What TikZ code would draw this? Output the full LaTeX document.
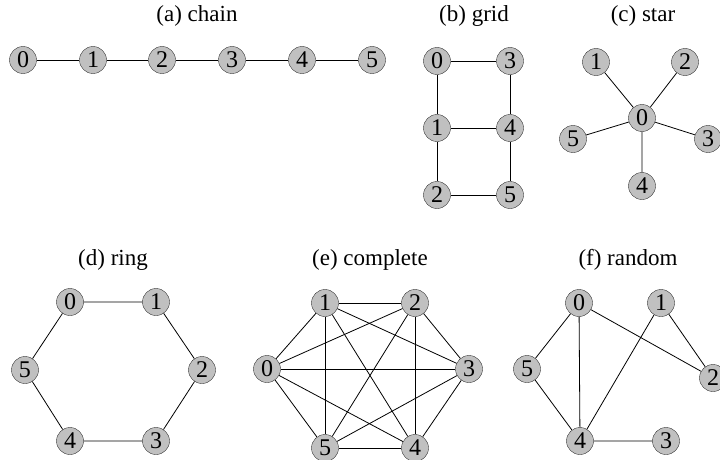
\documentclass[tikz,border=0pt]{standalone}
\usepackage{fontspec}
\setmainfont{Liberation Serif}
\definecolor{vtx}{RGB}{192,192,192}
\tikzset{
  vertex/.style={draw=black!80, circle, fill=vtx, minimum size=27pt, inner sep=0pt, font=\fontsize{24}{24}\selectfont},
  caption/.style={font=\fontsize{23}{23}\selectfont},
  edge/.style={draw=black, line width=0.8pt}
}
\begin{document}
\begin{tikzpicture}[x=1pt, y=-1pt]
      \useasboundingbox (0,0) rectangle (720,460);
      % (a) chain
      \node[caption] (ta) at (197, 16) {(a) chain};
      \node[vertex] (a0) at (23, 60) {0};
      \node[vertex] (a1) at (93, 60) {1};
      \node[vertex] (a2) at (162, 60) {2};
      \node[vertex] (a3) at (232, 60) {3};
      \node[vertex] (a4) at (302, 60) {4};
      \node[vertex] (a5) at (372, 60) {5};
      \draw[edge] (a0) -- (a1) (a1) -- (a2) (a2) -- (a3) (a3) -- (a4) (a4) -- (a5);
      % (b) grid
      \node[caption] (tb) at (474, 16) {(b) grid};
      \node[vertex] (b0) at (437, 61) {0};
      \node[vertex] (b3) at (510, 61) {3};
      \node[vertex] (b1) at (437, 128) {1};
      \node[vertex] (b4) at (510, 128) {4};
      \node[vertex] (b2) at (437, 195) {2};
      \node[vertex] (b5) at (510, 195) {5};
      \draw[edge] (b0) -- (b3) (b0) -- (b1) (b3) -- (b4) (b1) -- (b4)
                  (b1) -- (b2) (b4) -- (b5) (b2) -- (b5);
      % (c) star
      \node[caption] (tc) at (643, 16) {(c) star};
      \node[vertex] (c0) at (642, 118) {0};
      \node[vertex] (c1) at (596, 62) {1};
      \node[vertex] (c2) at (685, 62) {2};
      \node[vertex] (c5) at (573, 139) {5};
      \node[vertex] (c3) at (708, 139) {3};
      \node[vertex] (c4) at (642, 186) {4};
      \draw[edge] (c0) -- (c1) (c0) -- (c2) (c0) -- (c3) (c0) -- (c4) (c0) -- (c5);
      % (d) ring
      \node[caption] (td) at (113, 260) {(d) ring};
      \node[vertex] (d0) at (70, 302) {0};
      \node[vertex] (d1) at (156, 302) {1};
      \node[vertex] (d2) at (202, 370) {2};
      \node[vertex] (d3) at (156, 441) {3};
      \node[vertex] (d4) at (70, 441) {4};
      \node[vertex] (d5) at (25, 370) {5};
      \draw[edge] (d0) -- (d1) -- (d2) -- (d3) -- (d4) -- (d5) -- (d0);
      % (e) complete
      \node[caption] (te) at (370, 260) {(e) complete};
      \node[vertex] (e0) at (267, 369) {0};
      \node[vertex] (e1) at (325, 303) {1};
      \node[vertex] (e2) at (415, 303) {2};
      \node[vertex] (e3) at (469, 369) {3};
      \node[vertex] (e4) at (415, 448) {4};
      \node[vertex] (e5) at (325, 448) {5};
      \foreach \i/\j in {0/1,0/2,0/3,0/4,0/5,1/2,1/3,1/4,1/5,2/3,2/4,2/5,3/4,3/5,4/5}
        \draw[edge] (e\i) -- (e\j);
      % (f) random
      \node[caption] (tf) at (628, 260) {(f) random};
      \node[vertex] (f0) at (579, 303) {0};
      \node[vertex] (f1) at (661, 303) {1};
      \node[vertex] (f2) at (713, 378) {2};
      \node[vertex] (f3) at (666, 441) {3};
      \node[vertex] (f4) at (580, 441) {4};
      \node[vertex] (f5) at (527, 369) {5};
      \draw[edge] (f0) -- (f5) (f0) -- (f4) (f0) -- (f2) (f1) -- (f4)
                  (f1) -- (f2) (f5) -- (f4) (f4) -- (f3);
\end{tikzpicture}
\end{document}
